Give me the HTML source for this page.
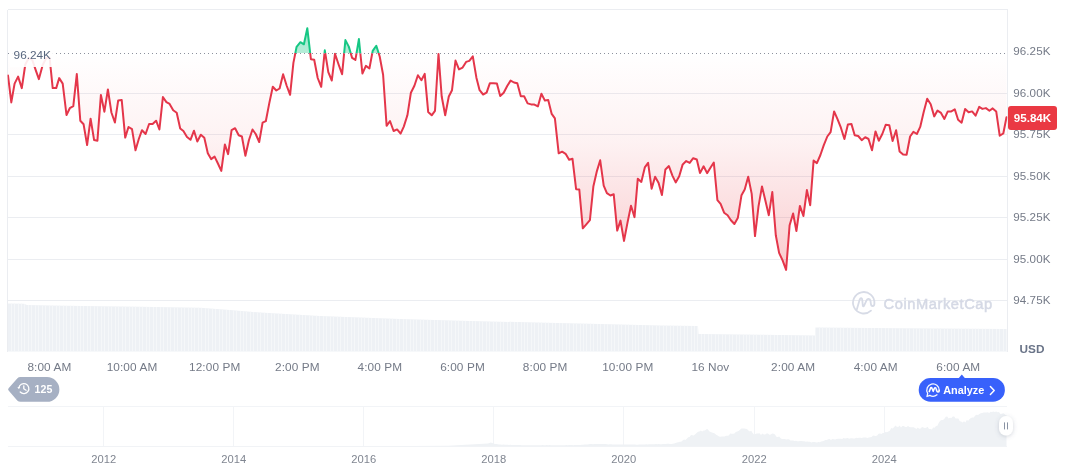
<!DOCTYPE html>
<html><head><meta charset="utf-8">
<style>
html,body{margin:0;padding:0;background:#fff;}
body{opacity:0.999;width:1072px;height:470px;position:relative;overflow:hidden;font-family:"Liberation Sans",sans-serif;}
svg{position:absolute;left:0;top:0;}
.yl{position:absolute;left:1013.2px;width:56px;height:16px;line-height:16px;font-size:11.6px;color:#747a87;letter-spacing:0.1px;white-space:nowrap;}
.xl{position:absolute;top:359px;width:80px;height:16px;line-height:16px;text-align:center;font-size:11.8px;color:#747a87;letter-spacing:0.1px;white-space:nowrap;}
.yr{position:absolute;top:451.2px;width:60px;height:16px;line-height:16px;text-align:center;font-size:11.2px;color:#808691;letter-spacing:0;white-space:nowrap;}
.usd{position:absolute;left:1019.5px;top:340.8px;height:16px;line-height:16px;font-size:11.8px;font-weight:bold;color:#6a7488;}
.ref{position:absolute;left:10px;top:43px;width:45px;height:24px;line-height:24px;background:rgba(255,255,255,0.9);font-size:11.8px;color:#58667e;text-indent:3.6px;white-space:nowrap;}
.price{position:absolute;left:1007.6px;top:105.8px;width:49.8px;height:24.4px;line-height:24.4px;background:#ea3943;border-radius:3px;color:#fff;font-weight:bold;font-size:11.6px;text-align:center;white-space:nowrap;}
.wm{position:absolute;left:883.5px;top:293.8px;height:20px;line-height:20px;font-size:14.7px;font-weight:normal;color:#d5d9e5;-webkit-text-stroke:0.5px #d5d9e5;white-space:nowrap;letter-spacing:0.56px;}
.pill-t{position:absolute;left:34.6px;top:381px;height:16px;line-height:16px;font-size:10.6px;font-weight:bold;color:#fff;}
.an-t{position:absolute;left:943.2px;top:382px;height:16px;line-height:16px;font-size:10.9px;font-weight:bold;color:#fff;}
</style></head><body>
<svg width="1072" height="470" viewBox="0 0 1072 470">
<defs>
<linearGradient id="gr" gradientUnits="userSpaceOnUse" x1="0" y1="53.0" x2="0" y2="351.5">
<stop offset="0" stop-color="#ea3943" stop-opacity="0.0"/>
<stop offset="0.3" stop-color="#ea3943" stop-opacity="0.068"/>
<stop offset="0.6" stop-color="#ea3943" stop-opacity="0.20"/>
<stop offset="1" stop-color="#ea3943" stop-opacity="0.40"/>
</linearGradient>
<linearGradient id="gg" gradientUnits="userSpaceOnUse" x1="0" y1="9.5" x2="0" y2="53.0">
<stop offset="0" stop-color="#16c784" stop-opacity="0.5"/>
<stop offset="1" stop-color="#16c784" stop-opacity="0.32"/>
</linearGradient>
<clipPath id="cb"><rect x="7.5" y="53.0" width="1000.0" height="298.5"/></clipPath>
<clipPath id="ct"><rect x="7.5" y="9.5" width="1000.0" height="43.5"/></clipPath>
<pattern id="vp" patternUnits="userSpaceOnUse" x="8" y="0" width="3.469" height="10">
<rect x="0" y="0" width="3.469" height="10" fill="#f8f9fb"/>
<rect x="0.5" y="0" width="2.45" height="10" fill="#eef1f5"/>
</pattern>
<filter id="sh" x="-100%" y="-100%" width="300%" height="300%"><feDropShadow dx="0" dy="1" stdDeviation="2.2" flood-color="#58667e" flood-opacity="0.28"/></filter>
</defs>
<!-- grid -->
<g stroke="#ebedf1" stroke-width="1" shape-rendering="crispEdges">
<line x1="7.5" x2="1007.5" y1="93" y2="93"/><line x1="7.5" x2="1007.5" y1="134.5" y2="134.5"/><line x1="7.5" x2="1007.5" y1="176" y2="176"/><line x1="7.5" x2="1007.5" y1="217.5" y2="217.5"/><line x1="7.5" x2="1007.5" y1="259" y2="259"/><line x1="7.5" x2="1007.5" y1="300.5" y2="300.5"/>
<line x1="7.5" x2="1007.5" y1="9.5" y2="9.5"/>
<line x1="7.5" x2="7.5" y1="9.5" y2="351.5"/>
<line x1="1007.5" x2="1007.5" y1="9.5" y2="351.5"/>
</g>
<!-- volume -->
<clipPath id="cv"><path d="M8.0,303.5 L24.0,303.8 L27.0,305.0 L50.0,305.6 L100.0,306.2 L140.0,306.8 L200.0,307.8 L230.0,310.0 L260.0,312.5 L320.0,316.0 L360.0,317.5 L400.0,319.0 L470.0,321.0 L536.0,322.5 L600.0,324.0 L660.0,325.5 L698.0,326.0 L698.5,334.0 L760.0,334.8 L815.0,335.5 L815.5,327.5 L900.0,328.3 L1007.0,329.0 L1007,351.5 L8,351.5 Z"/></clipPath>
<path d="M8.0,303.5 L24.0,303.8 L27.0,305.0 L50.0,305.6 L100.0,306.2 L140.0,306.8 L200.0,307.8 L230.0,310.0 L260.0,312.5 L320.0,316.0 L360.0,317.5 L400.0,319.0 L470.0,321.0 L536.0,322.5 L600.0,324.0 L660.0,325.5 L698.0,326.0 L698.5,334.0 L760.0,334.8 L815.0,335.5 L815.5,327.5 L900.0,328.3 L1007.0,329.0 L1007,351.5 L8,351.5 Z" fill="#eef1f5"/>
<path d="M11.5,300V352M14.5,300V352M18.5,300V352M21.5,300V352M24.5,300V352M28.5,300V352M31.5,300V352M35.5,300V352M38.5,300V352M42.5,300V352M45.5,300V352M49.5,300V352M52.5,300V352M56.5,300V352M59.5,300V352M63.5,300V352M66.5,300V352M70.5,300V352M73.5,300V352M77.5,300V352M80.5,300V352M83.5,300V352M87.5,300V352M90.5,300V352M94.5,300V352M97.5,300V352M101.5,300V352M104.5,300V352M108.5,300V352M111.5,300V352M115.5,300V352M118.5,300V352M122.5,300V352M125.5,300V352M129.5,300V352M132.5,300V352M135.5,300V352M139.5,300V352M142.5,300V352M146.5,300V352M149.5,300V352M153.5,300V352M156.5,300V352M160.5,300V352M163.5,300V352M167.5,300V352M170.5,300V352M174.5,300V352M177.5,300V352M181.5,300V352M184.5,300V352M188.5,300V352M191.5,300V352M194.5,300V352M198.5,300V352M201.5,300V352M205.5,300V352M208.5,300V352M212.5,300V352M215.5,300V352M219.5,300V352M222.5,300V352M226.5,300V352M229.5,300V352M233.5,300V352M236.5,300V352M240.5,300V352M243.5,300V352M246.5,300V352M250.5,300V352M253.5,300V352M257.5,300V352M260.5,300V352M264.5,300V352M267.5,300V352M271.5,300V352M274.5,300V352M278.5,300V352M281.5,300V352M285.5,300V352M288.5,300V352M292.5,300V352M295.5,300V352M299.5,300V352M302.5,300V352M305.5,300V352M309.5,300V352M312.5,300V352M316.5,300V352M319.5,300V352M323.5,300V352M326.5,300V352M330.5,300V352M333.5,300V352M337.5,300V352M340.5,300V352M344.5,300V352M347.5,300V352M351.5,300V352M354.5,300V352M358.5,300V352M361.5,300V352M364.5,300V352M368.5,300V352M371.5,300V352M375.5,300V352M378.5,300V352M382.5,300V352M385.5,300V352M389.5,300V352M392.5,300V352M396.5,300V352M399.5,300V352M403.5,300V352M406.5,300V352M410.5,300V352M413.5,300V352M416.5,300V352M420.5,300V352M423.5,300V352M427.5,300V352M430.5,300V352M434.5,300V352M437.5,300V352M441.5,300V352M444.5,300V352M448.5,300V352M451.5,300V352M455.5,300V352M458.5,300V352M462.5,300V352M465.5,300V352M469.5,300V352M472.5,300V352M475.5,300V352M479.5,300V352M482.5,300V352M486.5,300V352M489.5,300V352M493.5,300V352M496.5,300V352M500.5,300V352M503.5,300V352M507.5,300V352M510.5,300V352M514.5,300V352M517.5,300V352M521.5,300V352M524.5,300V352M527.5,300V352M531.5,300V352M534.5,300V352M538.5,300V352M541.5,300V352M545.5,300V352M548.5,300V352M552.5,300V352M555.5,300V352M559.5,300V352M562.5,300V352M566.5,300V352M569.5,300V352M573.5,300V352M576.5,300V352M580.5,300V352M583.5,300V352M586.5,300V352M590.5,300V352M593.5,300V352M597.5,300V352M600.5,300V352M604.5,300V352M607.5,300V352M611.5,300V352M614.5,300V352M618.5,300V352M621.5,300V352M625.5,300V352M628.5,300V352M632.5,300V352M635.5,300V352M638.5,300V352M642.5,300V352M645.5,300V352M649.5,300V352M652.5,300V352M656.5,300V352M659.5,300V352M663.5,300V352M666.5,300V352M670.5,300V352M673.5,300V352M677.5,300V352M680.5,300V352M684.5,300V352M687.5,300V352M691.5,300V352M694.5,300V352M697.5,300V352M701.5,300V352M704.5,300V352M708.5,300V352M711.5,300V352M715.5,300V352M718.5,300V352M722.5,300V352M725.5,300V352M729.5,300V352M732.5,300V352M736.5,300V352M739.5,300V352M743.5,300V352M746.5,300V352M749.5,300V352M753.5,300V352M756.5,300V352M760.5,300V352M763.5,300V352M767.5,300V352M770.5,300V352M774.5,300V352M777.5,300V352M781.5,300V352M784.5,300V352M788.5,300V352M791.5,300V352M795.5,300V352M798.5,300V352M802.5,300V352M805.5,300V352M808.5,300V352M812.5,300V352M815.5,300V352M819.5,300V352M822.5,300V352M826.5,300V352M829.5,300V352M833.5,300V352M836.5,300V352M840.5,300V352M843.5,300V352M847.5,300V352M850.5,300V352M854.5,300V352M857.5,300V352M861.5,300V352M864.5,300V352M867.5,300V352M871.5,300V352M874.5,300V352M878.5,300V352M881.5,300V352M885.5,300V352M888.5,300V352M892.5,300V352M895.5,300V352M899.5,300V352M902.5,300V352M906.5,300V352M909.5,300V352M913.5,300V352M916.5,300V352M919.5,300V352M923.5,300V352M926.5,300V352M930.5,300V352M933.5,300V352M937.5,300V352M940.5,300V352M944.5,300V352M947.5,300V352M951.5,300V352M954.5,300V352M958.5,300V352M961.5,300V352M965.5,300V352M968.5,300V352M972.5,300V352M975.5,300V352M978.5,300V352M982.5,300V352M985.5,300V352M989.5,300V352M992.5,300V352M996.5,300V352M999.5,300V352M1003.5,300V352M1006.5,300V352M1010.5,300V352" stroke="#f5f7f9" stroke-width="1" shape-rendering="crispEdges" clip-path="url(#cv)" fill="none"/>
<!-- watermark logo -->
<g transform="translate(863.7,302.8)" fill="none" stroke="#d7dbe6" stroke-width="1.8" stroke-linecap="round" stroke-linejoin="round">
<path d="M7.3,7.8 A10.7,10.7 0 1 1 10.7,0.6 C10.7,3.9 7.5,4.1 7.2,1.0 L6.8,-1.8 C6.4,-4.4 3.8,-4.6 2.8,-2.4 L0.3,3.0 C-0.1,3.8 -0.8,3.6 -0.9,2.8 L-1.4,-2.6 C-1.6,-5.0 -3.2,-5.2 -4.0,-3.2 L-6.9,6.6"/>
</g>
<!-- baseline series -->
<g clip-path="url(#cb)">
<path d="M8.0,75.6 L11.3,102.4 L14.6,83.6 L18.1,76.6 L21.8,88.1 L25.3,64.5 L28.8,58.0 L32.3,60.0 L35.8,70.4 L38.9,79.1 L42.7,65.0 L46.2,58.0 L49.6,57.5 L52.7,88.1 L56.2,88.1 L59.2,78.1 L62.7,83.6 L66.5,115.0 L69.8,108.2 L73.3,106.2 L76.8,74.1 L80.3,120.7 L83.6,124.3 L87.1,145.1 L90.6,118.7 L94.1,140.1 L97.4,140.8 L100.9,94.9 L104.4,111.7 L107.9,89.4 L111.4,112.5 L114.9,122.5 L118.2,100.4 L121.7,99.9 L125.2,137.6 L128.5,127.0 L132.0,129.2 L135.5,150.3 L138.8,139.0 L142.0,130.2 L145.6,134.0 L149.1,124.0 L152.6,124.0 L156.1,120.7 L159.4,129.5 L162.9,97.1 L166.4,102.1 L169.6,103.9 L173.2,110.2 L176.7,112.7 L180.2,128.5 L183.4,131.0 L187.0,137.0 L190.5,139.8 L194.0,130.7 L197.3,141.5 L200.8,134.7 L204.3,137.8 L207.8,153.3 L211.1,159.1 L214.6,156.6 L217.8,163.3 L221.3,170.9 L224.9,144.5 L228.1,154.1 L231.6,130.2 L235.1,128.2 L238.7,135.2 L241.9,136.5 L245.4,155.8 L248.9,140.3 L252.5,129.5 L255.7,134.0 L259.2,142.0 L262.6,122.7 L265.8,121.2 L269.3,103.1 L272.8,86.8 L276.3,90.5 L279.6,88.5 L283.1,74.2 L286.6,85.5 L290.1,94.8 L293.4,62.9 L296.6,46.8 L300.4,42.2 L303.9,44.3 L307.3,28.2 L310.9,59.2 L314.2,59.7 L317.7,78.0 L321.2,86.8 L324.8,50.3 L328.3,72.2 L331.8,80.5 L335.0,53.8 L338.5,64.2 L342.1,74.2 L345.4,40.1 L348.8,46.6 L352.1,57.9 L355.4,59.9 L358.9,39.1 L362.4,73.5 L365.9,65.9 L369.4,68.5 L372.7,50.9 L376.3,45.7 L379.7,56.5 L383.1,74.8 L386.6,125.8 L390.0,121.0 L393.6,131.0 L397.1,129.4 L400.6,133.6 L403.8,126.6 L407.4,115.3 L410.9,92.7 L414.4,85.7 L417.9,75.2 L421.4,80.2 L424.7,73.9 L428.2,112.1 L431.7,115.3 L435.0,110.8 L438.5,54.0 L441.7,96.5 L445.2,115.3 L448.8,96.5 L452.0,90.2 L455.5,60.6 L459.0,69.4 L462.6,67.6 L466.1,61.9 L469.3,60.9 L472.8,56.3 L476.4,77.7 L479.6,90.2 L483.1,94.5 L486.6,92.7 L489.9,83.2 L493.4,83.2 L496.9,83.5 L500.2,96.0 L503.7,92.7 L507.2,86.0 L510.6,80.6 L514.0,82.5 L517.3,83.3 L520.8,96.3 L524.1,96.3 L527.6,103.4 L531.1,104.4 L534.4,104.6 L537.9,106.4 L541.4,93.8 L544.9,100.6 L548.2,100.1 L551.7,113.9 L554.9,118.4 L558.7,153.3 L562.1,151.7 L565.6,153.8 L569.1,159.7 L572.5,158.8 L576.1,189.2 L579.3,189.5 L582.8,228.3 L586.3,224.3 L589.9,220.1 L593.4,186.2 L596.9,171.1 L600.2,160.3 L603.7,185.7 L606.9,193.2 L610.4,195.5 L613.7,194.2 L617.2,230.6 L620.5,220.6 L624.0,240.9 L627.5,222.6 L631.0,205.8 L634.5,217.1 L637.8,178.7 L641.3,181.9 L644.8,167.4 L648.1,162.9 L651.6,188.7 L655.1,176.7 L658.6,182.9 L661.9,195.0 L665.4,169.4 L668.9,166.1 L672.4,175.6 L675.7,182.4 L679.2,176.2 L682.7,164.4 L686.2,161.1 L689.7,162.9 L693.2,158.2 L696.8,159.5 L700.0,173.1 L703.6,166.3 L707.1,173.1 L710.6,167.5 L713.8,162.5 L717.4,200.2 L720.6,203.9 L724.1,212.7 L727.6,215.2 L730.9,220.2 L734.4,224.0 L737.9,217.7 L741.5,195.2 L744.7,189.6 L748.2,176.8 L751.7,193.9 L755.0,236.1 L758.5,206.4 L762.0,186.4 L765.3,200.2 L768.8,215.2 L772.3,192.1 L775.8,235.3 L779.1,252.9 L782.6,260.4 L786.1,269.9 L789.6,225.3 L793.1,213.5 L796.4,231.0 L799.9,205.9 L803.4,216.0 L806.9,190.1 L810.2,205.2 L813.6,160.6 L816.9,163.2 L820.4,155.0 L823.8,145.2 L827.3,136.5 L830.6,132.2 L834.1,111.4 L837.6,119.4 L840.9,127.7 L844.4,139.0 L847.9,124.4 L851.4,123.9 L854.7,135.2 L858.2,136.0 L861.7,140.2 L865.2,137.2 L868.5,139.0 L872.0,150.3 L875.5,131.4 L878.8,140.7 L882.3,134.0 L885.8,124.7 L889.3,125.2 L892.6,141.0 L896.1,130.2 L899.6,151.5 L903.1,154.5 L906.6,154.8 L910.1,136.5 L913.4,131.9 L916.9,134.0 L920.2,126.9 L923.7,112.1 L927.2,98.8 L930.7,104.3 L934.2,116.4 L937.5,110.6 L941.0,112.9 L944.4,118.9 L947.8,111.4 L951.3,111.4 L954.8,109.4 L958.1,119.7 L961.6,122.7 L965.1,108.9 L968.6,112.2 L972.1,111.4 L975.6,115.7 L979.2,106.9 L982.4,108.9 L985.9,108.1 L989.4,110.7 L992.7,108.4 L996.2,111.4 L999.7,135.7 L1003.3,133.5 L1006.5,117.2 L1006.5,53.0 L8.0,53.0 Z" fill="url(#gr)"/>
<path d="M8.0,75.6 L11.3,102.4 L14.6,83.6 L18.1,76.6 L21.8,88.1 L25.3,64.5 L28.8,58.0 L32.3,60.0 L35.8,70.4 L38.9,79.1 L42.7,65.0 L46.2,58.0 L49.6,57.5 L52.7,88.1 L56.2,88.1 L59.2,78.1 L62.7,83.6 L66.5,115.0 L69.8,108.2 L73.3,106.2 L76.8,74.1 L80.3,120.7 L83.6,124.3 L87.1,145.1 L90.6,118.7 L94.1,140.1 L97.4,140.8 L100.9,94.9 L104.4,111.7 L107.9,89.4 L111.4,112.5 L114.9,122.5 L118.2,100.4 L121.7,99.9 L125.2,137.6 L128.5,127.0 L132.0,129.2 L135.5,150.3 L138.8,139.0 L142.0,130.2 L145.6,134.0 L149.1,124.0 L152.6,124.0 L156.1,120.7 L159.4,129.5 L162.9,97.1 L166.4,102.1 L169.6,103.9 L173.2,110.2 L176.7,112.7 L180.2,128.5 L183.4,131.0 L187.0,137.0 L190.5,139.8 L194.0,130.7 L197.3,141.5 L200.8,134.7 L204.3,137.8 L207.8,153.3 L211.1,159.1 L214.6,156.6 L217.8,163.3 L221.3,170.9 L224.9,144.5 L228.1,154.1 L231.6,130.2 L235.1,128.2 L238.7,135.2 L241.9,136.5 L245.4,155.8 L248.9,140.3 L252.5,129.5 L255.7,134.0 L259.2,142.0 L262.6,122.7 L265.8,121.2 L269.3,103.1 L272.8,86.8 L276.3,90.5 L279.6,88.5 L283.1,74.2 L286.6,85.5 L290.1,94.8 L293.4,62.9 L296.6,46.8 L300.4,42.2 L303.9,44.3 L307.3,28.2 L310.9,59.2 L314.2,59.7 L317.7,78.0 L321.2,86.8 L324.8,50.3 L328.3,72.2 L331.8,80.5 L335.0,53.8 L338.5,64.2 L342.1,74.2 L345.4,40.1 L348.8,46.6 L352.1,57.9 L355.4,59.9 L358.9,39.1 L362.4,73.5 L365.9,65.9 L369.4,68.5 L372.7,50.9 L376.3,45.7 L379.7,56.5 L383.1,74.8 L386.6,125.8 L390.0,121.0 L393.6,131.0 L397.1,129.4 L400.6,133.6 L403.8,126.6 L407.4,115.3 L410.9,92.7 L414.4,85.7 L417.9,75.2 L421.4,80.2 L424.7,73.9 L428.2,112.1 L431.7,115.3 L435.0,110.8 L438.5,54.0 L441.7,96.5 L445.2,115.3 L448.8,96.5 L452.0,90.2 L455.5,60.6 L459.0,69.4 L462.6,67.6 L466.1,61.9 L469.3,60.9 L472.8,56.3 L476.4,77.7 L479.6,90.2 L483.1,94.5 L486.6,92.7 L489.9,83.2 L493.4,83.2 L496.9,83.5 L500.2,96.0 L503.7,92.7 L507.2,86.0 L510.6,80.6 L514.0,82.5 L517.3,83.3 L520.8,96.3 L524.1,96.3 L527.6,103.4 L531.1,104.4 L534.4,104.6 L537.9,106.4 L541.4,93.8 L544.9,100.6 L548.2,100.1 L551.7,113.9 L554.9,118.4 L558.7,153.3 L562.1,151.7 L565.6,153.8 L569.1,159.7 L572.5,158.8 L576.1,189.2 L579.3,189.5 L582.8,228.3 L586.3,224.3 L589.9,220.1 L593.4,186.2 L596.9,171.1 L600.2,160.3 L603.7,185.7 L606.9,193.2 L610.4,195.5 L613.7,194.2 L617.2,230.6 L620.5,220.6 L624.0,240.9 L627.5,222.6 L631.0,205.8 L634.5,217.1 L637.8,178.7 L641.3,181.9 L644.8,167.4 L648.1,162.9 L651.6,188.7 L655.1,176.7 L658.6,182.9 L661.9,195.0 L665.4,169.4 L668.9,166.1 L672.4,175.6 L675.7,182.4 L679.2,176.2 L682.7,164.4 L686.2,161.1 L689.7,162.9 L693.2,158.2 L696.8,159.5 L700.0,173.1 L703.6,166.3 L707.1,173.1 L710.6,167.5 L713.8,162.5 L717.4,200.2 L720.6,203.9 L724.1,212.7 L727.6,215.2 L730.9,220.2 L734.4,224.0 L737.9,217.7 L741.5,195.2 L744.7,189.6 L748.2,176.8 L751.7,193.9 L755.0,236.1 L758.5,206.4 L762.0,186.4 L765.3,200.2 L768.8,215.2 L772.3,192.1 L775.8,235.3 L779.1,252.9 L782.6,260.4 L786.1,269.9 L789.6,225.3 L793.1,213.5 L796.4,231.0 L799.9,205.9 L803.4,216.0 L806.9,190.1 L810.2,205.2 L813.6,160.6 L816.9,163.2 L820.4,155.0 L823.8,145.2 L827.3,136.5 L830.6,132.2 L834.1,111.4 L837.6,119.4 L840.9,127.7 L844.4,139.0 L847.9,124.4 L851.4,123.9 L854.7,135.2 L858.2,136.0 L861.7,140.2 L865.2,137.2 L868.5,139.0 L872.0,150.3 L875.5,131.4 L878.8,140.7 L882.3,134.0 L885.8,124.7 L889.3,125.2 L892.6,141.0 L896.1,130.2 L899.6,151.5 L903.1,154.5 L906.6,154.8 L910.1,136.5 L913.4,131.9 L916.9,134.0 L920.2,126.9 L923.7,112.1 L927.2,98.8 L930.7,104.3 L934.2,116.4 L937.5,110.6 L941.0,112.9 L944.4,118.9 L947.8,111.4 L951.3,111.4 L954.8,109.4 L958.1,119.7 L961.6,122.7 L965.1,108.9 L968.6,112.2 L972.1,111.4 L975.6,115.7 L979.2,106.9 L982.4,108.9 L985.9,108.1 L989.4,110.7 L992.7,108.4 L996.2,111.4 L999.7,135.7 L1003.3,133.5 L1006.5,117.2" fill="none" stroke="#e4364a" stroke-width="2" stroke-linejoin="round" stroke-linecap="round"/>
</g>
<g clip-path="url(#ct)">
<path d="M8.0,75.6 L11.3,102.4 L14.6,83.6 L18.1,76.6 L21.8,88.1 L25.3,64.5 L28.8,58.0 L32.3,60.0 L35.8,70.4 L38.9,79.1 L42.7,65.0 L46.2,58.0 L49.6,57.5 L52.7,88.1 L56.2,88.1 L59.2,78.1 L62.7,83.6 L66.5,115.0 L69.8,108.2 L73.3,106.2 L76.8,74.1 L80.3,120.7 L83.6,124.3 L87.1,145.1 L90.6,118.7 L94.1,140.1 L97.4,140.8 L100.9,94.9 L104.4,111.7 L107.9,89.4 L111.4,112.5 L114.9,122.5 L118.2,100.4 L121.7,99.9 L125.2,137.6 L128.5,127.0 L132.0,129.2 L135.5,150.3 L138.8,139.0 L142.0,130.2 L145.6,134.0 L149.1,124.0 L152.6,124.0 L156.1,120.7 L159.4,129.5 L162.9,97.1 L166.4,102.1 L169.6,103.9 L173.2,110.2 L176.7,112.7 L180.2,128.5 L183.4,131.0 L187.0,137.0 L190.5,139.8 L194.0,130.7 L197.3,141.5 L200.8,134.7 L204.3,137.8 L207.8,153.3 L211.1,159.1 L214.6,156.6 L217.8,163.3 L221.3,170.9 L224.9,144.5 L228.1,154.1 L231.6,130.2 L235.1,128.2 L238.7,135.2 L241.9,136.5 L245.4,155.8 L248.9,140.3 L252.5,129.5 L255.7,134.0 L259.2,142.0 L262.6,122.7 L265.8,121.2 L269.3,103.1 L272.8,86.8 L276.3,90.5 L279.6,88.5 L283.1,74.2 L286.6,85.5 L290.1,94.8 L293.4,62.9 L296.6,46.8 L300.4,42.2 L303.9,44.3 L307.3,28.2 L310.9,59.2 L314.2,59.7 L317.7,78.0 L321.2,86.8 L324.8,50.3 L328.3,72.2 L331.8,80.5 L335.0,53.8 L338.5,64.2 L342.1,74.2 L345.4,40.1 L348.8,46.6 L352.1,57.9 L355.4,59.9 L358.9,39.1 L362.4,73.5 L365.9,65.9 L369.4,68.5 L372.7,50.9 L376.3,45.7 L379.7,56.5 L383.1,74.8 L386.6,125.8 L390.0,121.0 L393.6,131.0 L397.1,129.4 L400.6,133.6 L403.8,126.6 L407.4,115.3 L410.9,92.7 L414.4,85.7 L417.9,75.2 L421.4,80.2 L424.7,73.9 L428.2,112.1 L431.7,115.3 L435.0,110.8 L438.5,54.0 L441.7,96.5 L445.2,115.3 L448.8,96.5 L452.0,90.2 L455.5,60.6 L459.0,69.4 L462.6,67.6 L466.1,61.9 L469.3,60.9 L472.8,56.3 L476.4,77.7 L479.6,90.2 L483.1,94.5 L486.6,92.7 L489.9,83.2 L493.4,83.2 L496.9,83.5 L500.2,96.0 L503.7,92.7 L507.2,86.0 L510.6,80.6 L514.0,82.5 L517.3,83.3 L520.8,96.3 L524.1,96.3 L527.6,103.4 L531.1,104.4 L534.4,104.6 L537.9,106.4 L541.4,93.8 L544.9,100.6 L548.2,100.1 L551.7,113.9 L554.9,118.4 L558.7,153.3 L562.1,151.7 L565.6,153.8 L569.1,159.7 L572.5,158.8 L576.1,189.2 L579.3,189.5 L582.8,228.3 L586.3,224.3 L589.9,220.1 L593.4,186.2 L596.9,171.1 L600.2,160.3 L603.7,185.7 L606.9,193.2 L610.4,195.5 L613.7,194.2 L617.2,230.6 L620.5,220.6 L624.0,240.9 L627.5,222.6 L631.0,205.8 L634.5,217.1 L637.8,178.7 L641.3,181.9 L644.8,167.4 L648.1,162.9 L651.6,188.7 L655.1,176.7 L658.6,182.9 L661.9,195.0 L665.4,169.4 L668.9,166.1 L672.4,175.6 L675.7,182.4 L679.2,176.2 L682.7,164.4 L686.2,161.1 L689.7,162.9 L693.2,158.2 L696.8,159.5 L700.0,173.1 L703.6,166.3 L707.1,173.1 L710.6,167.5 L713.8,162.5 L717.4,200.2 L720.6,203.9 L724.1,212.7 L727.6,215.2 L730.9,220.2 L734.4,224.0 L737.9,217.7 L741.5,195.2 L744.7,189.6 L748.2,176.8 L751.7,193.9 L755.0,236.1 L758.5,206.4 L762.0,186.4 L765.3,200.2 L768.8,215.2 L772.3,192.1 L775.8,235.3 L779.1,252.9 L782.6,260.4 L786.1,269.9 L789.6,225.3 L793.1,213.5 L796.4,231.0 L799.9,205.9 L803.4,216.0 L806.9,190.1 L810.2,205.2 L813.6,160.6 L816.9,163.2 L820.4,155.0 L823.8,145.2 L827.3,136.5 L830.6,132.2 L834.1,111.4 L837.6,119.4 L840.9,127.7 L844.4,139.0 L847.9,124.4 L851.4,123.9 L854.7,135.2 L858.2,136.0 L861.7,140.2 L865.2,137.2 L868.5,139.0 L872.0,150.3 L875.5,131.4 L878.8,140.7 L882.3,134.0 L885.8,124.7 L889.3,125.2 L892.6,141.0 L896.1,130.2 L899.6,151.5 L903.1,154.5 L906.6,154.8 L910.1,136.5 L913.4,131.9 L916.9,134.0 L920.2,126.9 L923.7,112.1 L927.2,98.8 L930.7,104.3 L934.2,116.4 L937.5,110.6 L941.0,112.9 L944.4,118.9 L947.8,111.4 L951.3,111.4 L954.8,109.4 L958.1,119.7 L961.6,122.7 L965.1,108.9 L968.6,112.2 L972.1,111.4 L975.6,115.7 L979.2,106.9 L982.4,108.9 L985.9,108.1 L989.4,110.7 L992.7,108.4 L996.2,111.4 L999.7,135.7 L1003.3,133.5 L1006.5,117.2 L1006.5,53.0 L8.0,53.0 Z" fill="url(#gg)"/>
<path d="M8.0,75.6 L11.3,102.4 L14.6,83.6 L18.1,76.6 L21.8,88.1 L25.3,64.5 L28.8,58.0 L32.3,60.0 L35.8,70.4 L38.9,79.1 L42.7,65.0 L46.2,58.0 L49.6,57.5 L52.7,88.1 L56.2,88.1 L59.2,78.1 L62.7,83.6 L66.5,115.0 L69.8,108.2 L73.3,106.2 L76.8,74.1 L80.3,120.7 L83.6,124.3 L87.1,145.1 L90.6,118.7 L94.1,140.1 L97.4,140.8 L100.9,94.9 L104.4,111.7 L107.9,89.4 L111.4,112.5 L114.9,122.5 L118.2,100.4 L121.7,99.9 L125.2,137.6 L128.5,127.0 L132.0,129.2 L135.5,150.3 L138.8,139.0 L142.0,130.2 L145.6,134.0 L149.1,124.0 L152.6,124.0 L156.1,120.7 L159.4,129.5 L162.9,97.1 L166.4,102.1 L169.6,103.9 L173.2,110.2 L176.7,112.7 L180.2,128.5 L183.4,131.0 L187.0,137.0 L190.5,139.8 L194.0,130.7 L197.3,141.5 L200.8,134.7 L204.3,137.8 L207.8,153.3 L211.1,159.1 L214.6,156.6 L217.8,163.3 L221.3,170.9 L224.9,144.5 L228.1,154.1 L231.6,130.2 L235.1,128.2 L238.7,135.2 L241.9,136.5 L245.4,155.8 L248.9,140.3 L252.5,129.5 L255.7,134.0 L259.2,142.0 L262.6,122.7 L265.8,121.2 L269.3,103.1 L272.8,86.8 L276.3,90.5 L279.6,88.5 L283.1,74.2 L286.6,85.5 L290.1,94.8 L293.4,62.9 L296.6,46.8 L300.4,42.2 L303.9,44.3 L307.3,28.2 L310.9,59.2 L314.2,59.7 L317.7,78.0 L321.2,86.8 L324.8,50.3 L328.3,72.2 L331.8,80.5 L335.0,53.8 L338.5,64.2 L342.1,74.2 L345.4,40.1 L348.8,46.6 L352.1,57.9 L355.4,59.9 L358.9,39.1 L362.4,73.5 L365.9,65.9 L369.4,68.5 L372.7,50.9 L376.3,45.7 L379.7,56.5 L383.1,74.8 L386.6,125.8 L390.0,121.0 L393.6,131.0 L397.1,129.4 L400.6,133.6 L403.8,126.6 L407.4,115.3 L410.9,92.7 L414.4,85.7 L417.9,75.2 L421.4,80.2 L424.7,73.9 L428.2,112.1 L431.7,115.3 L435.0,110.8 L438.5,54.0 L441.7,96.5 L445.2,115.3 L448.8,96.5 L452.0,90.2 L455.5,60.6 L459.0,69.4 L462.6,67.6 L466.1,61.9 L469.3,60.9 L472.8,56.3 L476.4,77.7 L479.6,90.2 L483.1,94.5 L486.6,92.7 L489.9,83.2 L493.4,83.2 L496.9,83.5 L500.2,96.0 L503.7,92.7 L507.2,86.0 L510.6,80.6 L514.0,82.5 L517.3,83.3 L520.8,96.3 L524.1,96.3 L527.6,103.4 L531.1,104.4 L534.4,104.6 L537.9,106.4 L541.4,93.8 L544.9,100.6 L548.2,100.1 L551.7,113.9 L554.9,118.4 L558.7,153.3 L562.1,151.7 L565.6,153.8 L569.1,159.7 L572.5,158.8 L576.1,189.2 L579.3,189.5 L582.8,228.3 L586.3,224.3 L589.9,220.1 L593.4,186.2 L596.9,171.1 L600.2,160.3 L603.7,185.7 L606.9,193.2 L610.4,195.5 L613.7,194.2 L617.2,230.6 L620.5,220.6 L624.0,240.9 L627.5,222.6 L631.0,205.8 L634.5,217.1 L637.8,178.7 L641.3,181.9 L644.8,167.4 L648.1,162.9 L651.6,188.7 L655.1,176.7 L658.6,182.9 L661.9,195.0 L665.4,169.4 L668.9,166.1 L672.4,175.6 L675.7,182.4 L679.2,176.2 L682.7,164.4 L686.2,161.1 L689.7,162.9 L693.2,158.2 L696.8,159.5 L700.0,173.1 L703.6,166.3 L707.1,173.1 L710.6,167.5 L713.8,162.5 L717.4,200.2 L720.6,203.9 L724.1,212.7 L727.6,215.2 L730.9,220.2 L734.4,224.0 L737.9,217.7 L741.5,195.2 L744.7,189.6 L748.2,176.8 L751.7,193.9 L755.0,236.1 L758.5,206.4 L762.0,186.4 L765.3,200.2 L768.8,215.2 L772.3,192.1 L775.8,235.3 L779.1,252.9 L782.6,260.4 L786.1,269.9 L789.6,225.3 L793.1,213.5 L796.4,231.0 L799.9,205.9 L803.4,216.0 L806.9,190.1 L810.2,205.2 L813.6,160.6 L816.9,163.2 L820.4,155.0 L823.8,145.2 L827.3,136.5 L830.6,132.2 L834.1,111.4 L837.6,119.4 L840.9,127.7 L844.4,139.0 L847.9,124.4 L851.4,123.9 L854.7,135.2 L858.2,136.0 L861.7,140.2 L865.2,137.2 L868.5,139.0 L872.0,150.3 L875.5,131.4 L878.8,140.7 L882.3,134.0 L885.8,124.7 L889.3,125.2 L892.6,141.0 L896.1,130.2 L899.6,151.5 L903.1,154.5 L906.6,154.8 L910.1,136.5 L913.4,131.9 L916.9,134.0 L920.2,126.9 L923.7,112.1 L927.2,98.8 L930.7,104.3 L934.2,116.4 L937.5,110.6 L941.0,112.9 L944.4,118.9 L947.8,111.4 L951.3,111.4 L954.8,109.4 L958.1,119.7 L961.6,122.7 L965.1,108.9 L968.6,112.2 L972.1,111.4 L975.6,115.7 L979.2,106.9 L982.4,108.9 L985.9,108.1 L989.4,110.7 L992.7,108.4 L996.2,111.4 L999.7,135.7 L1003.3,133.5 L1006.5,117.2" fill="none" stroke="#16c784" stroke-width="2" stroke-linejoin="round" stroke-linecap="round"/>
</g>
<!-- dotted baseline -->
<line x1="8" x2="1007.5" y1="53.5" y2="53.5" stroke="#8c919d" stroke-width="1" stroke-dasharray="1 3" shape-rendering="crispEdges"/>
<!-- 125 pill -->
<path d="M8.6,388.2 L17.2,378.4 Q18.6,377 20.6,377 L47,377 A12.4,12.4 0 0 1 47,401.8 L20.6,401.8 Q18.6,401.8 17.2,400.4 L8.6,390.6 Q7.6,389.4 8.6,388.2 Z" fill="#a6b0c3"/>
<g transform="translate(23.8,388.5)" fill="none" stroke="#fff" stroke-width="1.3" stroke-linecap="round" stroke-linejoin="round">
<path d="M-4.9,-0.6 A5,5 0 1 1 -3.6,3.5"/>
<path d="M-6.5,-1.5 L-3.6,-1.5 L-5.0,0.6 Z" fill="#fff" stroke="none"/>
<path d="M0,-2.7 L0,0.2 L2.3,1.7"/>
</g>
<!-- analyze -->
<path d="M961.8,374.6 L965,378.2 L958.6,378.2 Z" fill="#3861fb"/>
<rect x="918.7" y="378.1" width="86.2" height="23.6" rx="11.8" fill="#3861fb"/>
<g transform="translate(933,390.1)" fill="none" stroke="#fff" stroke-linecap="round" stroke-linejoin="round">
<path d="M4.0,4.7 A6.2,6.2 0 0 1 -3.2,5.3 L-6.0,6.4 L-5.3,3.3 A6.2,6.2 0 1 1 6.2,0.3" stroke-width="1.3" stroke-opacity="0.95"/>
<path d="M6.2,0.3 C6.2,2.2 4.2,2.4 3.8,0.8 L3.2,-1.2 C2.9,-2.6 1.7,-2.6 1.2,-1.4 L0.2,1.2 L-0.9,-1.6 C-1.3,-2.8 -2.2,-2.8 -2.6,-1.6 L-3.7,1.5" stroke-width="1.6"/>
</g>
<path d="M990.4,386.6 L994.2,390.5 L990.4,394.4" fill="none" stroke="#fff" stroke-width="1.5" stroke-linecap="round" stroke-linejoin="round"/>
<!-- navigator -->
<g stroke="#f2f4f7" stroke-width="1" shape-rendering="crispEdges">
<line x1="8" x2="1007" y1="406.5" y2="406.5"/>
<line x1="8" x2="1007" y1="446.5" y2="446.5"/>
<line x1="103.5" x2="103.5" y1="407" y2="446"/><line x1="233.5" x2="233.5" y1="407" y2="446"/><line x1="363.5" x2="363.5" y1="407" y2="446"/><line x1="493.5" x2="493.5" y1="407" y2="446"/><line x1="623.5" x2="623.5" y1="407" y2="446"/><line x1="754" x2="754" y1="407" y2="446"/><line x1="884" x2="884" y1="407" y2="446"/>
</g>
<path d="M8.0,446.0 L48.0,446.0 L88.0,446.0 L128.0,446.0 L168.0,446.0 L208.0,446.0 L248.0,446.0 L288.0,446.0 L328.0,446.0 L368.0,446.0 L408.0,446.0 L448.0,445.7 L488.0,443.4 L489.4,443.0 L490.8,442.6 L492.2,443.0 L493.6,443.6 L495.0,444.0 L496.4,444.0 L497.8,444.2 L499.2,444.6 L500.6,444.5 L502.0,444.8 L503.4,444.6 L504.8,444.7 L506.2,444.7 L507.6,444.8 L509.0,444.9 L510.4,444.8 L511.8,445.0 L513.2,445.0 L514.6,445.0 L516.0,445.1 L517.4,445.0 L518.8,445.1 L520.2,445.1 L521.6,445.2 L523.0,445.2 L524.4,445.2 L525.8,445.2 L527.2,445.2 L528.6,445.2 L530.0,445.3 L531.4,445.2 L532.8,445.2 L534.2,445.2 L535.6,445.2 L537.0,445.3 L538.4,445.2 L539.8,445.2 L541.2,445.3 L542.6,445.1 L544.0,445.2 L545.4,445.2 L546.8,445.1 L548.2,445.2 L549.6,445.1 L551.0,445.2 L552.4,445.2 L553.8,445.2 L555.2,445.3 L556.6,445.2 L558.0,445.2 L559.4,445.2 L560.8,445.2 L562.2,445.2 L563.6,445.2 L565.0,445.2 L566.4,445.1 L567.8,445.2 L569.2,445.0 L570.6,445.1 L572.0,445.1 L573.4,445.2 L574.8,445.1 L576.2,445.0 L577.6,445.0 L579.0,445.0 L580.4,444.9 L581.8,444.8 L583.2,444.7 L584.6,444.5 L586.0,444.4 L587.4,444.5 L588.8,444.2 L590.2,444.1 L591.6,444.1 L593.0,444.2 L594.4,443.9 L595.8,443.9 L597.2,443.9 L598.6,444.0 L600.0,443.9 L601.4,444.0 L602.8,443.9 L604.2,444.0 L605.6,444.0 L607.0,444.3 L608.4,444.4 L609.8,444.2 L611.2,444.3 L612.6,444.4 L614.0,444.5 L615.4,444.6 L616.8,444.6 L618.2,444.5 L619.6,444.4 L621.0,444.5 L622.4,444.4 L623.8,444.4 L625.2,444.5 L626.6,444.5 L628.0,444.4 L629.4,444.5 L630.8,444.5 L632.2,444.4 L633.6,444.6 L635.0,444.6 L636.4,444.7 L637.8,444.7 L639.2,444.6 L640.6,444.6 L642.0,444.4 L643.4,444.6 L644.8,444.4 L646.2,444.3 L647.6,444.4 L649.0,444.3 L650.4,444.3 L651.8,444.2 L653.2,444.2 L654.6,444.2 L656.0,444.1 L657.4,444.2 L658.8,444.1 L660.2,444.3 L661.6,444.2 L663.0,443.9 L664.4,443.9 L665.8,443.9 L667.2,443.8 L668.6,443.7 L670.0,443.9 L671.4,443.9 L672.8,443.7 L674.2,443.6 L675.6,443.0 L677.0,442.5 L678.4,442.2 L679.8,441.7 L681.2,441.7 L682.6,440.4 L684.0,439.5 L685.4,439.9 L686.8,438.7 L688.2,437.3 L689.6,437.0 L691.0,435.1 L692.4,435.2 L693.8,435.4 L695.2,434.3 L696.6,433.1 L698.0,431.7 L699.4,431.4 L700.8,430.5 L702.2,431.4 L703.6,430.4 L705.0,430.6 L706.4,429.3 L707.8,429.3 L709.2,431.2 L710.6,432.1 L712.0,432.4 L713.4,432.9 L714.8,433.6 L716.2,434.8 L717.6,435.4 L719.0,436.5 L720.4,436.7 L721.8,436.6 L723.2,436.4 L724.6,436.6 L726.0,435.7 L727.4,435.7 L728.8,435.5 L730.2,433.5 L731.6,433.8 L733.0,433.8 L734.4,433.6 L735.8,432.1 L737.2,431.5 L738.6,431.0 L740.0,429.7 L741.4,428.6 L742.8,428.5 L744.2,428.4 L745.6,428.8 L747.0,429.0 L748.4,430.5 L749.8,431.6 L751.2,430.7 L752.6,432.9 L754.0,434.5 L755.4,433.9 L756.8,433.6 L758.2,433.4 L759.6,433.2 L761.0,434.9 L762.4,433.6 L763.8,434.4 L765.2,434.6 L766.6,433.4 L768.0,433.5 L769.4,434.8 L770.8,434.5 L772.2,433.4 L773.6,433.7 L775.0,434.6 L776.4,436.8 L777.8,437.1 L779.2,436.6 L780.6,438.2 L782.0,438.9 L783.4,439.0 L784.8,439.1 L786.2,439.6 L787.6,439.3 L789.0,439.3 L790.4,440.6 L791.8,440.4 L793.2,440.5 L794.6,441.0 L796.0,440.7 L797.4,441.2 L798.8,441.3 L800.2,440.9 L801.6,441.0 L803.0,441.2 L804.4,441.3 L805.8,441.7 L807.2,441.5 L808.6,441.8 L810.0,441.7 L811.4,442.4 L812.8,442.1 L814.2,442.1 L815.6,442.2 L817.0,442.4 L818.4,442.0 L819.8,442.2 L821.2,441.5 L822.6,441.2 L824.0,440.8 L825.4,439.9 L826.8,440.0 L828.2,439.3 L829.6,439.0 L831.0,439.9 L832.4,439.0 L833.8,439.3 L835.2,439.5 L836.6,439.1 L838.0,438.7 L839.4,438.8 L840.8,438.8 L842.2,439.0 L843.6,438.1 L845.0,438.6 L846.4,438.2 L847.8,438.1 L849.2,438.7 L850.6,438.3 L852.0,438.2 L853.4,438.4 L854.8,438.6 L856.2,437.8 L857.6,438.0 L859.0,437.8 L860.4,437.8 L861.8,438.0 L863.2,437.5 L864.6,437.6 L866.0,437.4 L867.4,438.0 L868.8,437.4 L870.2,437.3 L871.6,437.1 L873.0,435.6 L874.4,435.7 L875.8,436.1 L877.2,435.5 L878.6,433.7 L880.0,433.5 L881.4,434.0 L882.8,432.9 L884.2,433.1 L885.6,432.1 L887.0,432.2 L888.4,431.4 L889.8,430.7 L891.2,428.1 L892.6,428.4 L894.0,427.3 L895.4,425.6 L896.8,426.8 L898.2,427.1 L899.6,425.6 L901.0,427.4 L902.4,426.0 L903.8,426.1 L905.2,427.0 L906.6,426.9 L908.0,425.9 L909.4,426.9 L910.8,427.3 L912.2,427.2 L913.6,427.2 L915.0,427.9 L916.4,429.1 L917.8,427.6 L919.2,428.8 L920.6,428.4 L922.0,427.1 L923.4,427.6 L924.8,428.1 L926.2,427.7 L927.6,426.8 L929.0,429.1 L930.4,428.9 L931.8,429.4 L933.2,427.5 L934.6,427.8 L936.0,426.0 L937.4,425.8 L938.8,422.8 L940.2,420.7 L941.6,420.1 L943.0,419.9 L944.4,418.7 L945.8,416.8 L947.2,416.6 L948.6,418.4 L950.0,417.8 L951.4,417.9 L952.8,416.5 L954.2,416.4 L955.6,418.5 L957.0,418.6 L958.4,418.6 L959.8,421.3 L961.2,421.4 L962.6,422.5 L964.0,421.3 L965.4,422.6 L966.8,420.0 L968.2,420.8 L969.6,419.0 L971.0,417.9 L972.4,417.5 L973.8,417.6 L975.2,415.6 L976.6,414.7 L978.0,415.1 L979.4,414.0 L980.8,413.2 L982.2,413.0 L983.6,412.5 L985.0,412.5 L986.4,412.5 L987.8,412.2 L989.2,413.0 L990.6,411.8 L992.0,412.1 L993.4,411.6 L994.8,412.1 L996.2,411.6 L997.6,412.3 L999.0,412.0 L1000.4,413.9 L1001.8,413.7 L1003.2,413.2 L1004.6,414.1 L1006.0,415.4 L1006.5,414.5 L1006.5,446.5 L8,446.5 Z" fill="#eff2f5"/>
<rect x="999" y="416" width="14" height="19.6" rx="7" fill="#fff" filter="url(#sh)"/>
<g stroke="#8a93a4" stroke-width="1">
<line x1="1004.5" x2="1004.5" y1="422.4" y2="429.4"/>
<line x1="1007.5" x2="1007.5" y1="422.4" y2="429.4"/>
</g>
</svg>
<div class="yl" style="top:43px">96.25K</div><div class="yl" style="top:85px">96.00K</div><div class="yl" style="top:126px">95.75K</div><div class="yl" style="top:168px">95.50K</div><div class="yl" style="top:209px">95.25K</div><div class="yl" style="top:251px">95.00K</div><div class="yl" style="top:292px">94.75K</div>
<div class="xl" style="left:9.4px">8:00 AM</div><div class="xl" style="left:92.0px">10:00 AM</div><div class="xl" style="left:174.7px">12:00 PM</div><div class="xl" style="left:257.3px">2:00 PM</div><div class="xl" style="left:339.9px">4:00 PM</div><div class="xl" style="left:422.5px">6:00 PM</div><div class="xl" style="left:505.2px">8:00 PM</div><div class="xl" style="left:587.8px">10:00 PM</div><div class="xl" style="left:670.4px">16 Nov</div><div class="xl" style="left:753.1px">2:00 AM</div><div class="xl" style="left:835.7px">4:00 AM</div><div class="xl" style="left:918.3px">6:00 AM</div>
<div class="yr" style="left:73.8px">2012</div><div class="yr" style="left:203.8px">2014</div><div class="yr" style="left:333.8px">2016</div><div class="yr" style="left:463.8px">2018</div><div class="yr" style="left:593.8px">2020</div><div class="yr" style="left:724.3px">2022</div><div class="yr" style="left:854.3px">2024</div>
<div class="usd">USD</div>
<div class="ref">96.24K</div>
<div class="price">95.84K</div>
<div class="wm">CoinMarketCap</div>
<div class="pill-t">125</div>
<div class="an-t">Analyze</div>
</body></html>
